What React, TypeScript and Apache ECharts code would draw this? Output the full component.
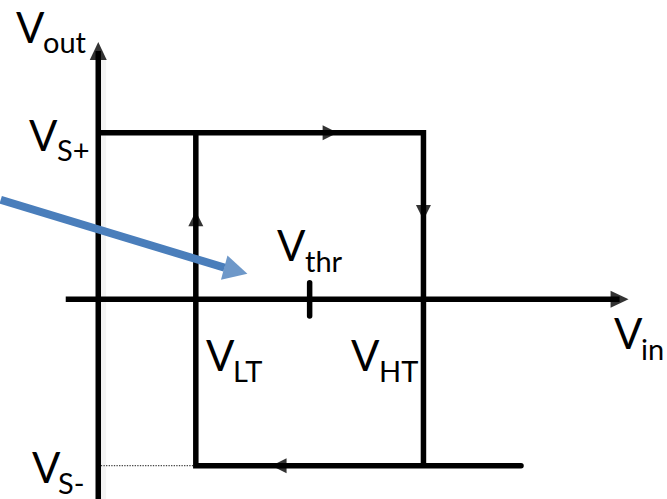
import React, { useEffect, useRef } from "react";
import * as echarts from "echarts";

// Diagram data (in axis units)
const hAxisLine = [[-1, 0], [16.03, 0]];
const vAxisLine = [[0, -6], [0, 7.46]];
const vAxisShade = [[0.15, -6], [0.15, 7.2]];
const loopUpper = [[0, 5], [10, 5], [10, -5]];
const loopLower = [[13, -5], [3, -5], [3, 5]];
const thrTick = [[6.5, -0.5], [6.5, 0.5]];
const dottedGuide = [[0, -5], [3, -5]];
const pointerLine = [[-3, 2.99], [3.88, 0.95]];
const pointerHead = [[4.23, 0.86]];
const axisHeads = [[16.03, 0], [0, 7.46]];
const axisHeadRot = [-90, 0];
const flowHeads = [[7.13, 5], [10, 2.61], [5.56, -5], [3, 2.42]];
const flowHeadRot = [-90, 180, 90, 0];

const labelMain = ["V", "V", "V", "V", "V", "V", "V"];
const labelSub = ["out", "S+", "S-", "thr", "LT", "HT", "in"];
// [mainX, mainTop, subX, subTop]
const labelPos = [
  [16, 6, 43, 27],
  [29, 114, 57, 135],
  [32, 446, 58, 468],
  [277, 224, 305, 246],
  [206, 334, 233, 356],
  [351, 334, 379, 356],
  [614, 312, 641, 334],
];

const BLACK = "#000";
const BLUE = "#4a7ebb";

export default function App() {
  const ref = useRef<HTMLDivElement>(null);
  useEffect(() => {
    if (!ref.current) return;
    const chart = echarts.init(ref.current, null, { renderer: "svg" });
    const lineSeries = (data: number[][], extra: any = {}) => ({
      type: "line",
      data,
      symbol: "none",
      silent: true,
      clip: false,
      lineStyle: { color: BLACK, width: 5.5, join: "miter", cap: "butt", ...extra },
    });
    const graphics: any[] = [];
    labelMain.forEach((m, i) => {
      const p = labelPos[i];
      graphics.push({
        type: "text",
        x: p[0],
        y: p[1],
        style: { text: m, font: "42px Lato", fill: "#000", verticalAlign: "top" },
      });
      graphics.push({
        type: "text",
        x: p[2],
        y: p[3],
        style: { text: labelSub[i], font: "29px Lato", fill: "#000", verticalAlign: "top" },
      });
    });
    chart.setOption({
      animation: false,
      backgroundColor: "#fff",
      grid: { left: 0.7, top: 33, width: 650.4, height: 466.2 },
      xAxis: { type: "value", min: -3, max: 17, show: false },
      yAxis: { type: "value", min: -6, max: 8, show: false },
      series: [
        lineSeries(vAxisShade, { width: 6, color: "rgba(0,0,0,0.045)" }),
        lineSeries(dottedGuide, { width: 1.3, type: "dotted", color: "#444" }),
        lineSeries(hAxisLine),
        lineSeries(vAxisLine),
        lineSeries(loopUpper),
        lineSeries(loopLower, { cap: "round" }),
        lineSeries(thrTick, { cap: "round" }),
        {
          type: "scatter",
          silent: true,
          data: axisHeads.map((d, i) => ({ value: d, symbolRotate: axisHeadRot[i] })),
          symbol: "triangle",
          symbolSize: [17, 18],
          itemStyle: { color: BLACK },
        },
        {
          type: "scatter",
          silent: true,
          data: flowHeads.map((d, i) => ({ value: d, symbolRotate: flowHeadRot[i] })),
          symbol: "triangle",
          symbolSize: [15, 15],
          itemStyle: { color: BLACK },
        },
        {
          type: "line",
          data: pointerLine,
          symbol: "none",
          silent: true,
          clip: false,
          lineStyle: { color: BLUE, width: 8, cap: "butt" },
        },
        {
          type: "scatter",
          silent: true,
          data: pointerHead.map((d) => ({ value: d, symbolRotate: -105 })),
          symbol: "triangle",
          symbolSize: [25, 24],
          itemStyle: { color: BLUE },
        },
      ],
      graphic: graphics,
    });
    return () => chart.dispose();
  }, []);
  return (
    <div
      ref={ref}
      style={{ position: "fixed", left: 0, top: 0, width: 667, height: 499, background: "#fff" }}
    />
  );
}
